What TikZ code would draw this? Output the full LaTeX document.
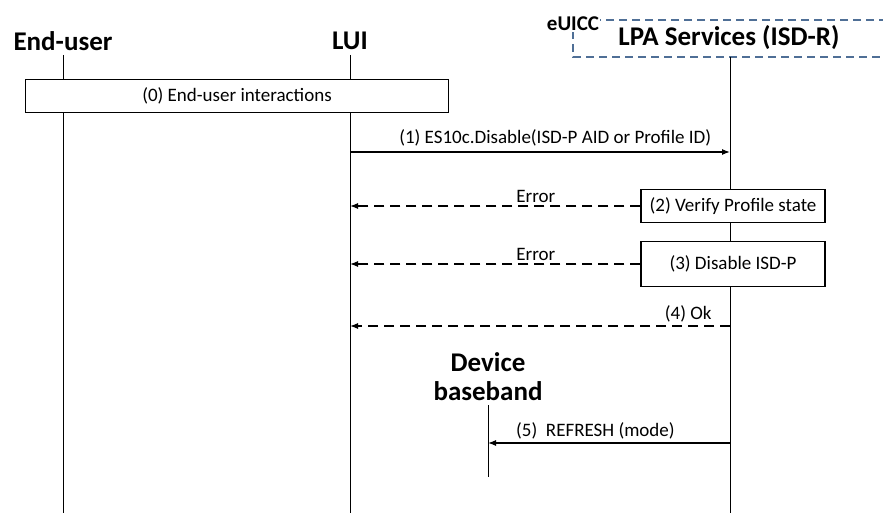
\documentclass[tikz,border=0pt]{standalone}
\usepackage{fontspec}
\setmainfont{Carlito}
\usetikzlibrary{arrows.meta,positioning}
\definecolor{euiccblue}{RGB}{79,111,150}

\begin{document}
\begin{tikzpicture}
  [x=1pt,y=-1pt,
   every node/.style={font=\fontsize{19}{21}\selectfont,inner sep=2pt},
   actor/.style={font=\fontsize{27}{29}\selectfont\bfseries,align=center},
   stepbox/.style={draw,fill=white,line width=1.2pt,minimum height=33pt},
   msg/.style={line width=1.2pt,-{Latex[length=8pt,width=6pt]}},
   reply/.style={msg,dash pattern=on 10pt off 6pt}]
  \useasboundingbox (0,0) rectangle (883,513);

  % eUICC frame
  \draw[euiccblue,line width=1.3pt,dash pattern=on 8pt off 5pt]
    (900,20) -- (573,20) -- (573,57) -- (900,57);
  \node[font=\fontsize{21}{23}\selectfont\bfseries,fill=white,inner sep=1pt] (euicc) at (573,24) {eUICC};

  % actors
  \node[actor] (enduser) at (63,41) {End-user};
  \node[actor] (lui) at (350,41) {LUI};
  \node[actor] (lpa) at (729,38) {LPA Services (ISD-R)};
  \node[actor] (baseband) at (488,377) {Device\\baseband};

  % lifelines
  \coordinate (enduser-top) at (63,55);   \coordinate (enduser-end) at (63,513);
  \coordinate (lui-top) at (350,55);      \coordinate (lui-end) at (350,513);
  \coordinate (lpa-top) at (730,57);      \coordinate (lpa-end) at (730,513);
  \coordinate (baseband-top) at (488,405);\coordinate (baseband-end) at (488,477);
  \foreach \who in {enduser,lui,lpa,baseband}
    \draw[line width=1pt] (\who-top) -- (\who-end);

  % steps
  \node[stepbox,minimum width=423pt] (interact) at (237,96) {(0) End-user interactions};
  \node[stepbox,minimum width=184pt] (verify) at (733,206) {(2) Verify Profile state};
  \node[stepbox,minimum width=184pt,minimum height=45pt] (disable) at (733,264) {(3) Disable ISD-P};

  % message end points
  \coordinate (lui-1) at (350,152);  \coordinate (lpa-1) at (730,152);
  \coordinate (lui-2) at (350,206);
  \coordinate (lui-3) at (350,264);
  \coordinate (lui-4) at (350,326);  \coordinate (lpa-4) at (730,326);
  \coordinate (baseband-5) at (488,443); \coordinate (lpa-5) at (730,443);

  \draw[msg] (lui-1) -- node[pos=0.54,above=3pt] {(1) ES10c.Disable(ISD-P AID or Profile ID)} (lpa-1);
  \draw[reply] (verify.west) -- node[pos=0.36,above=1pt] {Error} (lui-2);
  \draw[reply] (disable.west) -- node[pos=0.36,above=1pt] {Error} (lui-3);
  \draw[reply] (lpa-4) -- node[pos=0.11,above=1pt] {(4) Ok} (lui-4);
  \draw[msg] (lpa-5) -- node[pos=0.556,above=1pt] {(5)\ \ REFRESH (mode)} (baseband-5);

\end{tikzpicture}
\end{document}
